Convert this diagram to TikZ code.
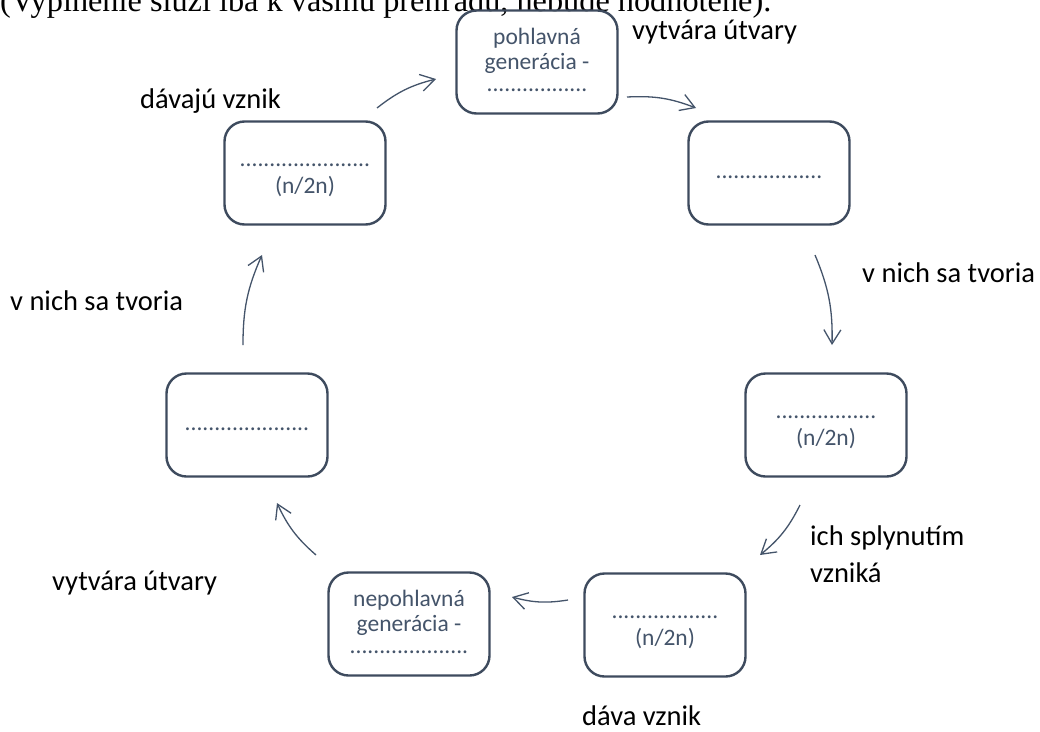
\documentclass[tikz,border=0pt]{standalone}
\usepackage{fontspec}
\setmainfont{Carlito}
\newfontfamily\notefont{Liberation Serif}
\usetikzlibrary{arrows.meta}
\definecolor{slate}{HTML}{44546A}
\definecolor{boxline}{HTML}{3E4B5E}
\newcommand{\upstrut}[1]{\rule{0pt}{#1}}
\newcommand{\dnstrut}[1]{\rule[-#1]{0pt}{#1}}
\begin{document}
\begin{tikzpicture}[x=1pt,y=-1pt,
  cell/.style={draw=boxline, line width=2.4pt, rounded corners=20pt, minimum width=161pt, minimum height=103pt, inner sep=0pt, text=slate, font=\fontsize{23.5}{27}\selectfont, align=center, anchor=center},
  tricell/.style={cell, font=\fontsize{23.5}{25}\selectfont},
  flow/.style={draw=slate, line width=1.3pt, -{Straight Barb[length=14pt,width=17pt]}},
  lbl/.style={font=\fontsize{28.5}{34}\selectfont, text=black, anchor=base west, inner sep=0pt}]
\useasboundingbox (0,0) rectangle (1040,731);
\fill[white] (0,0) rectangle (1040,731);
\begin{scope}
\clip (0,0) rectangle (1040,731);
\node[anchor=base west, inner sep=0pt, font=\notefont\fontsize{32.3}{34}\selectfont] (note) at (0,11) {(Vyplnenie slúži iba k vášmu prehľadu, nebude hodnotené).};
\end{scope}
% boxes
\node[tricell] (A) at (537,62) {pohlavná\\generácia -\\[-3pt].................\dnstrut{4pt}};
\node[cell] (B) at (769,173) {\upstrut{12pt}..................};
\node[cell] (C) at (826,425) {\upstrut{18pt}.................\\(n/2n)};
\node[cell] (D) at (665,625) {\upstrut{18pt}..................\\(n/2n)};
\node[tricell] (E) at (409,624) {nepohlavná\\generácia -\\[-3pt]....................\dnstrut{4pt}};
\node[cell] (F) at (247,425) {\upstrut{12pt}.....................};
\node[cell] (G) at (305,173) {\upstrut{18pt}......................\\(n/2n)};
% arrow ends
\coordinate (a1) at (377,108); \coordinate (a2) at (436,79);
\coordinate (b1) at (627,97);  \coordinate (b2) at (696,108);
\coordinate (c1) at (815,255); \coordinate (c2) at (832,345);
\coordinate (d1) at (800,505); \coordinate (d2) at (760,555);
\coordinate (e1) at (568,600); \coordinate (e2) at (512,597);
\coordinate (f1) at (316,555); \coordinate (f2) at (277,503);
\coordinate (g1) at (243,345); \coordinate (g2) at (262,255);
\draw[flow] (a1) to[bend left=12] (a2);
\draw[flow] (b1) to[bend left=12] (b2);
\draw[flow] (c1) to[bend left=12] (c2);
\draw[flow] (d1) to[bend left=12] (d2);
\draw[flow] (e1) to[bend left=12] (e2);
\draw[flow] (f1) to[bend left=12] (f2);
\draw[flow] (g1) to[bend left=12] (g2);
% labels
\node[lbl] (l1) at (140,108) {dávajú vznik};
\node[lbl] (l2) at (632,39) {vytvára útvary};
\node[lbl] (l3) at (862,282) {v nich sa tvoria};
\node[lbl] (l4) at (810,545) {ich splynutím};
\node[lbl] (l5) at (810,582) {vzniká};
\node[lbl] (l6) at (582,725) {dáva vznik};
\node[lbl] (l7) at (52,590) {vytvára útvary};
\node[lbl] (l8) at (10,310) {v nich sa tvoria};
\end{tikzpicture}
\end{document}
